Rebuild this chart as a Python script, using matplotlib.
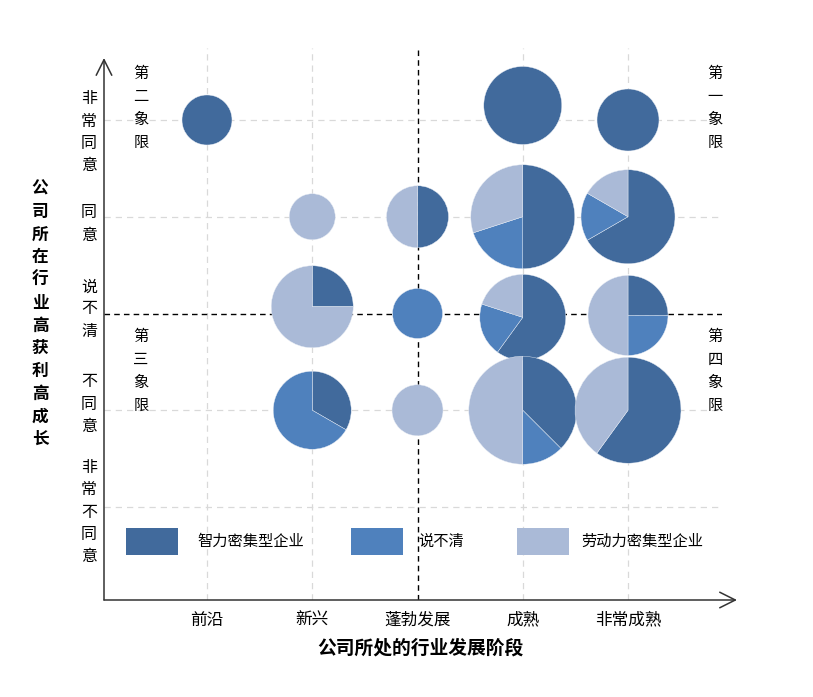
import numpy as np
import matplotlib
matplotlib.use('Agg')
import matplotlib.pyplot as plt
from matplotlib.patches import Wedge, Rectangle
import matplotlib.transforms as mtransforms

plt.rcParams['font.family'] = ['Noto Sans CJK SC', 'DejaVu Sans']

# categories
stages = ['前沿', '新兴', '蓬勃发展', '成熟', '非常成熟']
levels = ['非常不同意', '不同意', '说不清', '同意', '非常同意']   # bottom -> top
series = ['智力密集型企业', '说不清', '劳动力密集型企业']
colors = ['#416A9C', '#4F81BD', '#AABAD7']

# bubbles: stage, level, counts per series, bubble size (radius, px)
bub_stage = ['前沿', '成熟', '非常成熟',
             '新兴', '蓬勃发展', '成熟', '非常成熟',
             '新兴', '蓬勃发展', '成熟', '非常成熟',
             '新兴', '蓬勃发展', '成熟', '非常成熟']
bub_level = [5.0, 5.15, 5.0,
             4.0, 4.0, 4.0, 4.0,
             3.07, 3.0, 2.96, 2.98,
             2.0, 2.0, 2.0, 2.0]
bub_dark = [1, 1, 1, 0, 1, 5, 4, 1, 0, 3, 1, 1, 0, 3, 3]
bub_mid = [0, 0, 0, 0, 0, 2, 1, 0, 1, 1, 1, 2, 0, 1, 0]
bub_light = [0, 0, 0, 1, 1, 3, 1, 3, 0, 1, 2, 0, 1, 4, 2]
bub_size = [25, 39, 31, 23, 31, 52, 47, 41, 25, 43, 40, 39, 25.5, 54, 53]

W, H = 813, 697
fig = plt.figure(figsize=(W / 100, H / 100), dpi=100)

def fx(px):
    return px / W

def fy(py):
    return 1 - py / H

# plot area in pixels: x 104..722, y 48..600
ax = fig.add_axes([fx(104), fy(600), fx(722) - fx(104), fy(48) - fy(600)])
ax.set_xlim(0.0214, 5.893)
ax.set_ylim(0.039, 5.744)
for s in ax.spines.values():
    s.set_visible(False)
ax.set_xticks([])
ax.set_yticks([])

xs = np.arange(1, len(stages) + 1)
ys = np.arange(1, len(levels) + 1)

# grid
for i, x in enumerate(xs):
    if stages[i] == '蓬勃发展':
        ax.axvline(x, color='black', lw=1, ls=(0, (4, 3)), zorder=1)
    else:
        ax.axvline(x, color='#d9d9d9', lw=0.9, ls=(0, (5, 4)), zorder=1)
for i, y in enumerate(ys):
    if levels[i] == '说不清':
        ax.axhline(y, color='black', lw=1, ls=(0, (4, 3)), zorder=1)
    else:
        ax.axhline(y, color='#d9d9d9', lw=0.9, ls=(0, (5, 4)), zorder=1)

# pie bubbles
for st, lv, d, m, l, r in zip(bub_stage, bub_level, bub_dark, bub_mid, bub_light, bub_size):
    x = xs[stages.index(st)]
    tr = fig.dpi_scale_trans + mtransforms.ScaledTranslation(x, lv, ax.transData)
    vals = [d, m, l]
    tot = sum(vals)
    start = 90.0
    for v, c in zip(vals, colors):
        if v == 0:
            continue
        ang = 360.0 * v / tot
        w = Wedge((0, 0), r / 100, start - ang, start, transform=tr,
                  facecolor=c, edgecolor='#e8edf5', lw=0.3, zorder=3)
        ax.add_patch(w)
        start -= ang

# axes with arrows
arrow = dict(arrowstyle='->,head_length=0.7,head_width=0.35', color='#333333',
             lw=1.1, shrinkA=0, shrinkB=0, mutation_scale=16)
ax.annotate('', xy=(737, H - 600), xytext=(104, H - 600),
            xycoords='figure pixels', textcoords='figure pixels', arrowprops=arrow)
ax.annotate('', xy=(104, H - 58), xytext=(104, H - 600),
            xycoords='figure pixels', textcoords='figure pixels', arrowprops=arrow)

def vtext(px, py, s, **kw):
    fig.text(fx(px), fy(py), '\n'.join(s), ha='center', va='center', **kw)

# y tick labels (vertical)
ytick_py = {'非常同意': 132, '同意': 224, '说不清': 309, '不同意': 404, '非常不同意': 512}
for lv in levels:
    vtext(89, ytick_py[lv], lv, fontsize=11.5, linespacing=1.39)

# x tick labels
for i, st in enumerate(stages):
    px = ax.transData.transform((xs[i], 0))[0]
    fig.text(px / W, fy(620), st, ha='center', va='center', fontsize=12)

# quadrant labels
vtext(141, 108, '第二象限', fontsize=11, linespacing=1.44)
vtext(715, 108, '第一象限', fontsize=11, linespacing=1.44)
vtext(141, 371, '第三象限', fontsize=11, linespacing=1.44)
vtext(715, 371, '第四象限', fontsize=11, linespacing=1.44)

# axis titles
vtext(40, 314, '公司所在行业高获利高成长', fontsize=12, fontweight='bold', linespacing=1.34)
fig.text(fx(420), fy(648), '公司所处的行业发展阶段', ha='center', va='center',
         fontsize=13.5, fontweight='bold')

# legend (drawn by hand: swatch 52x27 px, then label)
leg_x = [126, 351, 517]
leg_tx = [197, 418, 581]
for name, c, px, tx in zip(series, colors, leg_x, leg_tx):
    fig.add_artist(Rectangle((fx(px), fy(555)), 52 / W, 27 / H,
                             transform=fig.transFigure, facecolor=c, edgecolor='none'))
    fig.text(fx(tx), fy(541), name, ha='left', va='center', fontsize=11)

fig.savefig('out.png', dpi=100)
